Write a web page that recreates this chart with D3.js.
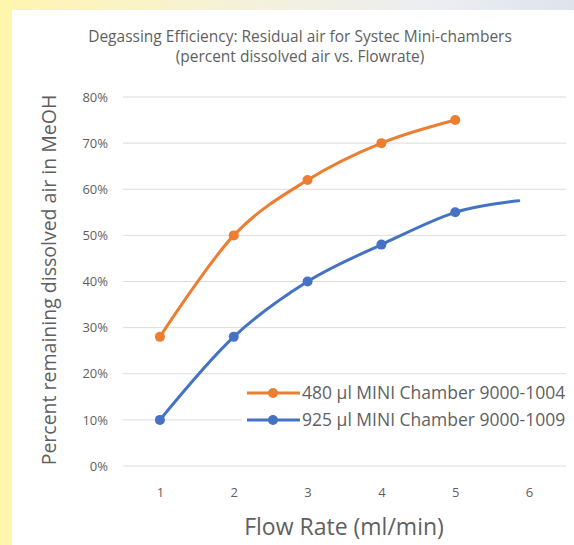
<!DOCTYPE html>
<html>
<head>
<meta charset="utf-8">
<script src="https://cdn.jsdelivr.net/npm/d3@7"></script>
<style>
  html, body { margin: 0; padding: 0; background: #fff; }
  svg { display: block; font-family: "Open Sans", Lato, sans-serif; }
</style>
</head>
<body>
<div id="graph-container"></div>
<script>
// Data
const flowRates480 = [1, 2, 3, 4, 5];
const residual480 = [0.28, 0.50, 0.62, 0.70, 0.75];
const flowRates925 = [1, 2, 3, 4, 5, 5.86];
const residual925 = [0.10, 0.28, 0.40, 0.48, 0.55, 0.575];
const markers925 = [true, true, true, true, true, false];
const xTicks = [1, 2, 3, 4, 5, 6];
const yTicks = [0, 0.1, 0.2, 0.3, 0.4, 0.5, 0.6, 0.7, 0.8];
const seriesNames = ["480 µl MINI Chamber 9000-1004", "925 µl MINI Chamber 9000-1009"];
const seriesColors = ["#ed7d31", "#4472c4"];

const W = 574, H = 545;
const margin = { top: 97, right: 8, bottom: 79, left: 123 };
const width = W - margin.left - margin.right;
const height = H - margin.top - margin.bottom;

const svg = d3.select("#graph-container")
  .append("svg")
    .attr("width", W)
    .attr("height", H);

// Slide frame: yellow strip left, light swoosh on top
const defs = svg.append("defs");
const grad = defs.append("linearGradient").attr("id", "topband");
grad.append("stop").attr("offset", "0%").attr("stop-color", "#fff5b0");
grad.append("stop").attr("offset", "45%").attr("stop-color", "#f4f1dc");
grad.append("stop").attr("offset", "75%").attr("stop-color", "#eceef2");
grad.append("stop").attr("offset", "100%").attr("stop-color", "#dfe3ea");
svg.append("rect").attr("width", W).attr("height", 10).attr("fill", "url(#topband)");
svg.append("rect").attr("width", 12).attr("height", H).attr("fill", "#fff6ae");

const g = svg.append("g")
  .attr("transform", `translate(${margin.left},${margin.top})`);

const x = d3.scaleLinear().domain([0.5, 6.5]).range([0, width]);
const y = d3.scaleLinear().domain([0, 0.8]).range([height, 0]);

// Gridlines
g.append("g")
  .selectAll("line")
  .data(yTicks)
  .join("line")
    .attr("x1", 0)
    .attr("x2", width)
    .attr("y1", d => y(d))
    .attr("y2", d => y(d))
    .attr("stroke", "#dcdcdc")
    .attr("stroke-width", 1);

// Y axis labels
const yAxis = g.append("g")
  .call(d3.axisLeft(y).tickValues(yTicks).tickFormat(d3.format(".0%")).tickSize(0).tickPadding(15));
yAxis.select(".domain").remove();
yAxis.selectAll("text")
  .attr("fill", "#5f5f5f")
  .style("font-size", "13px")
  .style("font-family", "'Open Sans', sans-serif");

// X axis labels
const xAxis = g.append("g")
  .attr("transform", `translate(0,${height})`)
  .call(d3.axisBottom(x).tickValues(xTicks).tickFormat(d3.format("d")).tickSize(0).tickPadding(22));
xAxis.select(".domain").remove();
xAxis.selectAll("text")
  .attr("fill", "#5f5f5f")
  .style("font-size", "13px")
  .style("font-family", "'Open Sans', sans-serif");

// Titles
svg.append("text")
  .attr("x", 300).attr("y", 42)
  .attr("text-anchor", "middle")
  .attr("fill", "#5f5f5f")
  .style("font-size", "15.5px")
  .text("Degassing Efficiency: Residual air for Systec Mini-chambers");
svg.append("text")
  .attr("x", 300).attr("y", 62)
  .attr("text-anchor", "middle")
  .attr("fill", "#5f5f5f")
  .style("font-size", "15.5px")
  .text("(percent dissolved air vs. Flowrate)");

svg.append("text")
  .attr("transform", `translate(56,${margin.top + 183}) rotate(-90)`)
  .attr("text-anchor", "middle")
  .attr("fill", "#5f5f5f")
  .style("font-size", "19.5px")
  .text("Percent remaining dissolved air in MeOH");

svg.append("text")
  .attr("x", 344).attr("y", 535)
  .attr("text-anchor", "middle")
  .attr("fill", "#5f5f5f")
  .style("font-size", "23px")
  .text("Flow Rate (ml/min)");

// Series
const series = [
  { name: seriesNames[0], color: seriesColors[0], pts: flowRates480.map((f, i) => ({ x: f, y: residual480[i], m: true })) },
  { name: seriesNames[1], color: seriesColors[1], pts: flowRates925.map((f, i) => ({ x: f, y: residual925[i], m: markers925[i] })) }
];

// smoothed line, close to the spreadsheet's "smooth line" option
const line = d3.line()
  .x(d => x(d.x))
  .y(d => y(d.y))
  .curve(d3.curveCardinal.tension(0));

series.forEach(s => {
  g.append("path")
    .datum(s.pts)
    .attr("fill", "none")
    .attr("stroke", s.color)
    .attr("stroke-width", 3)
    .attr("stroke-linecap", "round")
    .attr("d", line);
  g.append("g")
    .selectAll("circle")
    .data(s.pts.filter(d => d.m))
    .join("circle")
      .attr("cx", d => x(d.x))
      .attr("cy", d => y(d.y))
      .attr("r", 5)
      .attr("fill", s.color);
});

// Legend
const legend = svg.append("g").attr("transform", "translate(242,380)");
legend.append("rect")
  .attr("width", 332).attr("height", 56)
  .attr("fill", "#fff");
series.forEach((s, i) => {
  const row = legend.append("g").attr("transform", `translate(0,${13 + i * 27})`);
  row.append("line")
    .attr("x1", 5).attr("x2", 58)
    .attr("stroke", s.color).attr("stroke-width", 3);
  row.append("circle").attr("cx", 31).attr("r", 5).attr("fill", s.color);
  row.append("text")
    .attr("x", 60).attr("y", 6)
    .attr("fill", "#5f5f5f")
    .style("font-size", "17.5px")
    .text(s.name);
});
</script>
</body>
</html>
